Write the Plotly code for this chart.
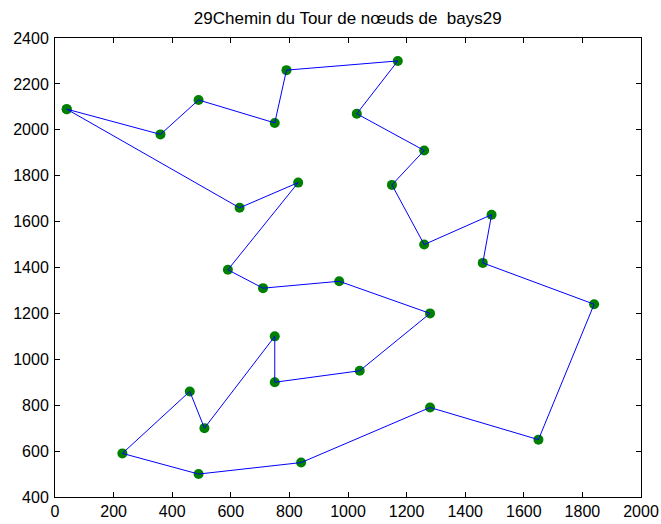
import plotly.graph_objects as go

# bays29 city coordinates in tour order (closed tour)
tour_x = [40, 360, 490, 750, 790, 1170, 1030, 1260, 1150, 1260, 1490, 1460, 1840, 1650, 1280,
          840, 490, 230, 460, 510, 750, 750, 1040, 1280, 970, 710, 590, 830, 630, 40]
tour_y = [2090, 1980, 2130, 2030, 2260, 2300, 2070, 1910, 1760, 1500, 1630, 1420, 1240, 650, 790,
          550, 500, 590, 860, 700, 1100, 900, 950, 1200, 1340, 1310, 1390, 1770, 1660, 2090]

x_ticks = [0, 200, 400, 600, 800, 1000, 1200, 1400, 1600, 1800, 2000]
y_ticks = [400, 600, 800, 1000, 1200, 1400, 1600, 1800, 2000, 2200, 2400]
title_text = "29Chemin du Tour de nœuds de  bays29"

fig = go.Figure()
fig.add_trace(go.Scatter(x=tour_x, y=tour_y, mode="markers",
                         marker=dict(color="#008000", size=10, line=dict(width=0)),
                         showlegend=False, hoverinfo="skip"))
fig.add_trace(go.Scatter(x=tour_x, y=tour_y, mode="lines",
                         line=dict(color="#0000ff", width=1),
                         showlegend=False))

axis_common = dict(showgrid=False, zeroline=False, showline=True, linecolor="black",
                   linewidth=1, mirror="ticks", ticks="inside", ticklen=5,
                   automargin=False,
                   tickcolor="black", tickfont=dict(family="Liberation Sans, Arial", size=16,
                                                    color="black"))
fig.update_xaxes(range=[0, 2000], tickvals=x_ticks, ticktext=[str(v) for v in x_ticks],
                 ticklabelstandoff=0, **axis_common)
fig.update_yaxes(range=[400, 2400], tickvals=y_ticks, ticktext=[str(v) for v in y_ticks],
                 ticklabelstandoff=2, **axis_common)

fig.update_layout(
    width=661, height=524,
    margin=dict(l=55, r=20, t=38, b=27, pad=0, autoexpand=False),
    paper_bgcolor="white", plot_bgcolor="white",
    title=dict(text=title_text, x=(55 + 640.5) / 2 / 661, xanchor="center",
               y=1 - 18 / 524, yanchor="middle",
               font=dict(family="Liberation Sans, Arial", size=17, color="black")),
)

fig.write_html("out.html")
